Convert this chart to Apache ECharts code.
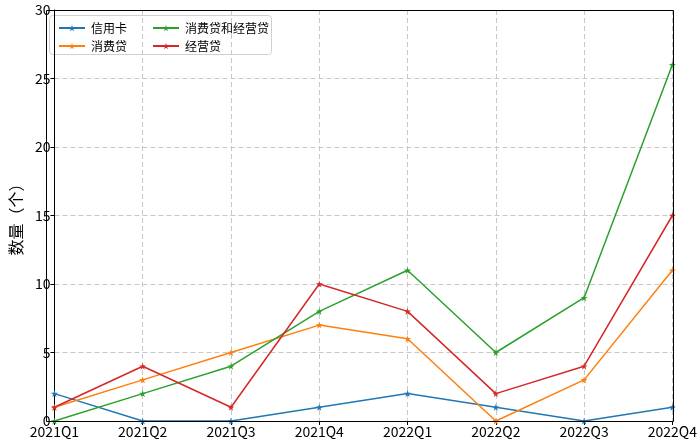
<!DOCTYPE html>
<html><head><meta charset="utf-8">
<script src="https://cdn.jsdelivr.net/npm/echarts@6/dist/echarts.min.js"></script>
<style>html,body{margin:0;padding:0;background:#fff}#c{width:700px;height:443px}</style>
</head><body><div id="c"></div>
<script>
const categories = ['2021Q1','2021Q2','2021Q3','2021Q4','2022Q1','2022Q2','2022Q3','2022Q4'];
const creditCard = [2, 0, 0, 1, 2, 1, 0, 1];
const consumerLoan = [1, 3, 5, 7, 6, 0, 3, 11];
const consumerBizLoan = [0, 2, 4, 8, 11, 5, 9, 26];
const bizLoan = [1, 4, 1, 10, 8, 2, 4, 15];
const yTicks = [0, 5, 10, 15, 20, 25, 30];

const star = 'path://M50,0 L61,35 L98,35 L68,57 L79,91 L50,70 L21,91 L32,57 L2,35 L39,35 Z';
const font = '"Noto Sans CJK SC", "DejaVu Sans", sans-serif';
function s(name, data, color) {
  return { name, type: 'line', data, symbol: star, symbolSize: 7, showSymbol: true,
    itemStyle: { color }, lineStyle: { color, width: 1.5 }, emphasis: { disabled: true }, animation: false };
}
const legendText = { fontSize: 12, fontFamily: font, color: '#000', padding: [0, 0, 0, 1] };
const chart = echarts.init(document.getElementById('c'));
chart.setOption({
  animation: false,
  grid: { left: 46, right: 27, top: 10, bottom: 22 },
  xAxis: { type: 'category', data: categories, boundaryGap: false,
    axisLine: { lineStyle: { color: '#000' } },
    axisTick: { show: true, alignWithLabel: true, length: 4, lineStyle: { color: '#000' } },
    axisLabel: { color: '#000', fontSize: 14, fontFamily: font, margin: 4, interval: 0 },
    splitLine: { show: true, lineStyle: { color: '#c8c8c8', type: [5, 3], width: 1 } } },
  yAxis: { type: 'value', min: yTicks[0], max: yTicks[yTicks.length - 1], interval: 5,
    name: '数量（个）', nameLocation: 'middle', nameGap: 30, nameRotate: 90,
    nameTextStyle: { color: '#000', fontSize: 16, fontFamily: font },
    axisLine: { show: true, lineStyle: { color: '#000' } },
    axisTick: { show: true, length: 4, lineStyle: { color: '#000' } },
    axisLabel: { color: '#000', fontSize: 14, fontFamily: font, margin: 4 },
    splitLine: { show: true, lineStyle: { color: '#c8c8c8', type: [5, 3], width: 1 } } },
  legend: [
    { orient: 'vertical', left: 53, top: 17, itemWidth: 26, itemHeight: 8, itemGap: 6,
      data: ['信用卡', '消费贷'], textStyle: legendText },
    { orient: 'vertical', left: 147, top: 17, itemWidth: 26, itemHeight: 8, itemGap: 6,
      data: ['消费贷和经营贷', '经营贷'], textStyle: legendText }
  ],
  graphic: [
    { type: 'rect', left: 49, top: 15, shape: { width: 222, height: 39, r: 3 },
      style: { fill: 'rgba(255,255,255,0.8)', stroke: '#d0d0d0', lineWidth: 1 }, z: 0 },
    { type: 'rect', shape: { x: 46.5, y: 10.5, width: 627, height: 411 },
      style: { fill: 'none', stroke: '#000', lineWidth: 1 }, z: 100 }
  ],
  series: [
    s('信用卡', creditCard, '#1f77b4'),
    s('消费贷', consumerLoan, '#ff7f0e'),
    s('消费贷和经营贷', consumerBizLoan, '#2ca02c'),
    s('经营贷', bizLoan, '#d62728')
  ]
});
</script></body></html>
